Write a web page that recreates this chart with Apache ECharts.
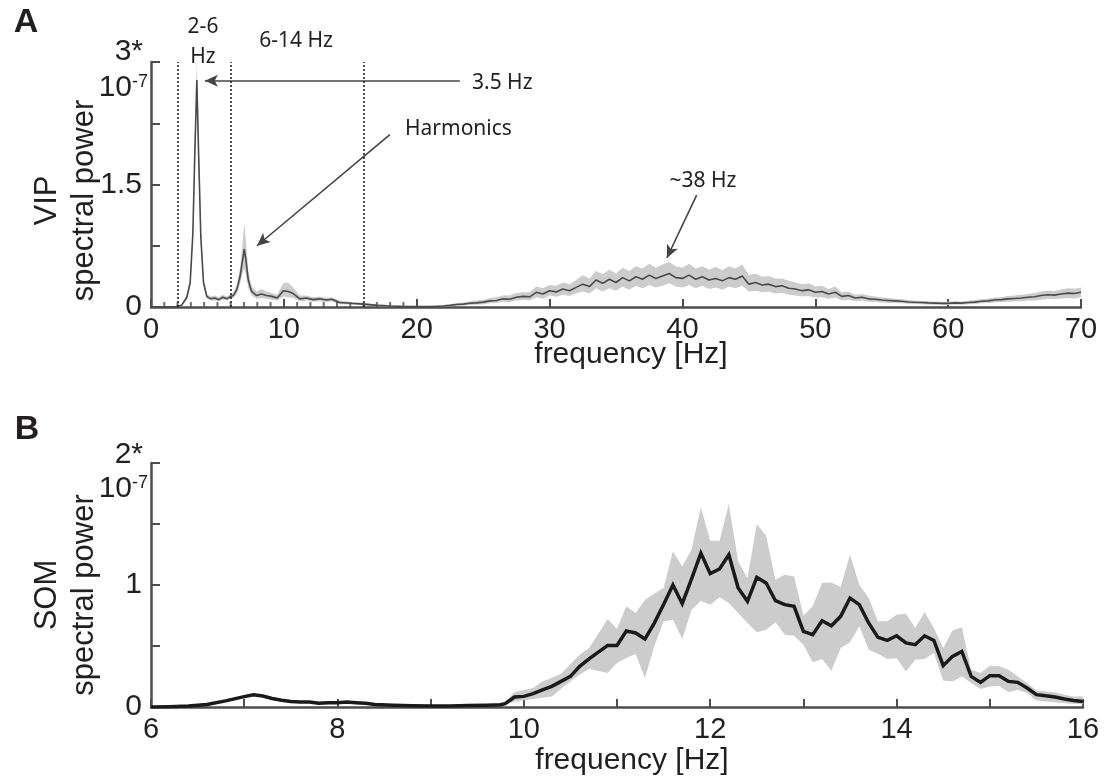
<!DOCTYPE html>
<html>
<head>
<meta charset="utf-8">
<script src="https://cdn.jsdelivr.net/npm/echarts@6/dist/echarts.min.js"></script>
<style>
  html, body { margin: 0; padding: 0; background: #fff; }
  #chart { width: 1112px; height: 783px; }
</style>
</head>
<body>
<div id="chart"></div>
<script>
// ---- panel A : VIP spectral power, 0-70 Hz ----
const freqA = [0, 1, 1.9, 2.3, 2.7, 2.95, 3.15, 3.3, 3.45, 3.58, 3.75, 3.95, 4.2, 4.5, 4.8, 5.1, 5.4, 5.7, 6, 6.2,
  6.45, 6.7, 6.9, 7.02, 7.14, 7.32, 7.57, 7.95, 8.3, 8.7, 9.1, 9.5, 9.96, 10.33, 10.7, 11.2, 11.7, 12.2, 12.7, 13.2,
  13.6, 14.2, 15, 16, 17, 18, 19, 20,
  20.5, 21, 21.5, 22, 22.5, 23, 23.5, 24, 24.5, 25, 25.5, 26, 26.5, 27, 27.5, 28, 28.5, 29, 29.5, 30,
  30.5, 31, 31.5, 32, 32.5, 33, 33.5, 34, 34.5, 35, 35.5, 36, 36.5, 37, 37.5, 38, 38.5, 39, 39.5, 40,
  40.5, 41, 41.5, 42, 42.5, 43, 43.5, 44, 44.5, 45, 45.5, 46, 46.5, 47, 47.5, 48, 48.5, 49, 49.5, 50,
  50.5, 51, 51.5, 52, 52.5, 53, 53.5, 54, 54.5, 55, 55.5, 56, 56.5, 57, 57.5, 58, 58.5, 59, 59.5, 60,
  60.5, 61, 61.5, 62, 62.5, 63, 63.5, 64, 64.5, 65, 65.5, 66, 66.5, 67, 67.5, 68, 68.5, 69, 69.5, 70]

const vipMean = [0.003, 0.003, 0.005, 0.02, 0.12, 0.3, 0.9, 1.9, 2.78, 1.9, 0.86, 0.3, 0.13, 0.1, 0.11, 0.09, 0.12, 0.1, 0.13, 0.14,
  0.21, 0.37, 0.58, 0.71, 0.58, 0.33, 0.19, 0.14, 0.16, 0.14, 0.13, 0.11, 0.2, 0.19, 0.165, 0.1, 0.11, 0.09, 0.1, 0.085,
  0.095, 0.055, 0.045, 0.035, 0.02, 0.012, 0.006, 0.004,
  0.005, 0.006, 0.008, 0.012, 0.02, 0.03, 0.035, 0.045, 0.05, 0.06, 0.075, 0.08, 0.1, 0.095, 0.12, 0.13, 0.125, 0.18, 0.16, 0.2,
  0.185, 0.22, 0.2, 0.24, 0.28, 0.25, 0.33, 0.29, 0.34, 0.3, 0.36, 0.32, 0.37, 0.34, 0.39, 0.35, 0.38, 0.41, 0.36, 0.35,
  0.39, 0.34, 0.37, 0.33, 0.35, 0.32, 0.36, 0.34, 0.38, 0.28, 0.3, 0.27, 0.28, 0.25, 0.26, 0.23, 0.22, 0.2, 0.21, 0.18,
  0.19, 0.16, 0.18, 0.13, 0.14, 0.11, 0.12, 0.1, 0.095, 0.085, 0.08, 0.075, 0.07, 0.062, 0.058, 0.055, 0.05, 0.048, 0.045, 0.045,
  0.05, 0.048, 0.055, 0.06, 0.07, 0.075, 0.085, 0.09, 0.1, 0.105, 0.11, 0.12, 0.125, 0.14, 0.15, 0.145, 0.16, 0.17, 0.165, 0.18]

const vipUpper = [0.006, 0.006, 0.01, 0.03, 0.15, 0.36, 1.0, 2.1, 3.0, 2.1, 0.98, 0.36, 0.16, 0.13, 0.14, 0.12, 0.15, 0.13, 0.16, 0.18,
  0.27, 0.48, 0.8, 1.02, 0.82, 0.45, 0.25, 0.19, 0.22, 0.19, 0.17, 0.15, 0.29, 0.3, 0.24, 0.14, 0.14, 0.12, 0.13, 0.11,
  0.12, 0.08, 0.065, 0.05, 0.035, 0.025, 0.015, 0.012,
  0.013, 0.015, 0.018, 0.024, 0.035, 0.05, 0.055, 0.07, 0.08, 0.09, 0.11, 0.12, 0.145, 0.14, 0.17, 0.18, 0.18, 0.25, 0.23, 0.27,
  0.26, 0.3, 0.28, 0.33, 0.39, 0.35, 0.44, 0.4, 0.46, 0.41, 0.48, 0.44, 0.5, 0.47, 0.53, 0.48, 0.52, 0.55, 0.5, 0.48,
  0.53, 0.47, 0.5, 0.46, 0.49, 0.45, 0.5, 0.47, 0.52, 0.39, 0.41, 0.37, 0.38, 0.35, 0.35, 0.32, 0.3, 0.28, 0.29, 0.25,
  0.26, 0.22, 0.25, 0.18, 0.19, 0.15, 0.16, 0.14, 0.13, 0.12, 0.11, 0.1, 0.095, 0.085, 0.08, 0.075, 0.07, 0.068, 0.065, 0.065,
  0.07, 0.068, 0.077, 0.085, 0.095, 0.1, 0.115, 0.12, 0.135, 0.14, 0.15, 0.16, 0.17, 0.19, 0.2, 0.195, 0.215, 0.23, 0.225, 0.24]

const vipLower = [0, 0, 0, 0.01, 0.09, 0.25, 0.8, 1.7, 2.6, 1.7, 0.76, 0.25, 0.1, 0.08, 0.08, 0.07, 0.09, 0.08, 0.1, 0.11,
  0.16, 0.28, 0.42, 0.47, 0.4, 0.24, 0.14, 0.1, 0.11, 0.1, 0.09, 0.08, 0.13, 0.12, 0.11, 0.07, 0.08, 0.065, 0.07, 0.06,
  0.07, 0.035, 0.03, 0.02, 0.01, 0.004, 0, 0,
  0, 0, 0.002, 0.004, 0.008, 0.015, 0.018, 0.025, 0.028, 0.035, 0.045, 0.05, 0.065, 0.06, 0.08, 0.085, 0.08, 0.12, 0.1, 0.14,
  0.125, 0.15, 0.135, 0.165, 0.19, 0.165, 0.23, 0.19, 0.23, 0.2, 0.25, 0.21, 0.26, 0.23, 0.27, 0.24, 0.26, 0.29, 0.25, 0.24,
  0.27, 0.23, 0.26, 0.22, 0.24, 0.21, 0.25, 0.23, 0.26, 0.19, 0.2, 0.18, 0.19, 0.165, 0.17, 0.15, 0.14, 0.13, 0.135, 0.115,
  0.12, 0.1, 0.115, 0.08, 0.09, 0.07, 0.08, 0.065, 0.06, 0.055, 0.05, 0.048, 0.045, 0.04, 0.036, 0.035, 0.03, 0.028, 0.026, 0.026,
  0.03, 0.028, 0.033, 0.037, 0.045, 0.05, 0.055, 0.06, 0.065, 0.07, 0.07, 0.08, 0.08, 0.09, 0.1, 0.095, 0.105, 0.11, 0.105, 0.12]

const bandEdgesA = [2, 6, 16]            // dotted band limits, Hz
const minorTicksA = [1, 2, 3, 4, 5, 6, 7, 8, 9, 11, 12, 13, 14, 15, 16, 17, 18, 19]
const xTicksA = [0, 10, 20, 30, 40, 50, 60, 70]
const yLabelsA = [0, 1.5]

// ---- panel B : SOM spectral power, 6-16 Hz ----
const freqB = [6.0, 6.2, 6.4, 6.6, 6.8, 7.0, 7.1, 7.2, 7.3, 7.4, 7.5, 7.6, 7.7, 7.8, 7.9, 8.0, 8.1, 8.2, 8.3, 8.4,
  8.6, 8.8, 9.0, 9.2, 9.4, 9.6, 9.75, 9.8, 9.9,
  10.0, 10.1, 10.2, 10.3, 10.4, 10.5, 10.6, 10.7, 10.8, 10.9, 11.0, 11.1, 11.2, 11.3, 11.4, 11.5, 11.6, 11.7, 11.8, 11.9,
  12.0, 12.1, 12.2, 12.3, 12.4, 12.5, 12.6, 12.7, 12.8, 12.9, 13.0, 13.1, 13.2, 13.3, 13.4, 13.5, 13.6, 13.7, 13.8, 13.9,
  14.0, 14.1, 14.2, 14.3, 14.4, 14.5, 14.6, 14.7, 14.8, 14.9, 15.0, 15.1, 15.2, 15.3, 15.4, 15.5, 15.6, 15.7, 15.8, 15.9, 16.0]

const somMean = [0.0, 0.003, 0.008, 0.02, 0.05, 0.085, 0.1, 0.09, 0.07, 0.055, 0.045, 0.04, 0.04, 0.03, 0.035, 0.035, 0.04, 0.035, 0.03, 0.02,
  0.015, 0.01, 0.008, 0.008, 0.012, 0.015, 0.019, 0.027, 0.082,
  0.087, 0.109, 0.14, 0.169, 0.21, 0.251, 0.333, 0.395, 0.45, 0.505, 0.505, 0.623, 0.607, 0.557, 0.688, 0.84, 1.0, 0.847, 1.05, 1.262,
  1.093, 1.131, 1.248, 0.975, 0.866, 1.062, 1.016, 0.871, 0.839, 0.825, 0.62, 0.593, 0.707, 0.666, 0.743, 0.893, 0.839, 0.689, 0.571, 0.546,
  0.584, 0.525, 0.511, 0.584, 0.546, 0.339, 0.415, 0.456, 0.251, 0.202, 0.257, 0.257, 0.21, 0.202, 0.156, 0.101, 0.093, 0.082, 0.066, 0.054, 0.046]

const somUpper = [0.004, 0.008, 0.014, 0.028, 0.06, 0.097, 0.112, 0.102, 0.081, 0.065, 0.054, 0.049, 0.049, 0.039, 0.044, 0.044, 0.049, 0.044, 0.038, 0.028,
  0.022, 0.016, 0.014, 0.014, 0.019, 0.023, 0.025, 0.04, 0.12,
  0.14, 0.156, 0.21, 0.24, 0.273, 0.35, 0.429, 0.484, 0.6, 0.721, 0.639, 0.825, 0.77, 0.88, 0.929, 0.975, 1.275, 1.152, 1.29, 1.639,
  1.363, 1.363, 1.664, 1.193, 1.057, 1.5, 1.404, 1.043, 1.084, 1.07, 0.751, 0.825, 1.016, 1.02, 0.984, 1.248, 1.0, 0.893, 0.702, 0.702,
  0.757, 0.765, 0.648, 0.779, 0.648, 0.484, 0.628, 0.653, 0.306, 0.279, 0.339, 0.333, 0.306, 0.251, 0.197, 0.136, 0.128, 0.12, 0.101, 0.087, 0.087]

const somLower = [0.0, 0.0, 0.003, 0.013, 0.04, 0.074, 0.088, 0.079, 0.06, 0.046, 0.037, 0.032, 0.032, 0.022, 0.027, 0.027, 0.032, 0.027, 0.022, 0.013,
  0.009, 0.005, 0.003, 0.003, 0.006, 0.009, 0.012, 0.02, 0.046,
  0.055, 0.066, 0.075, 0.087, 0.15, 0.21, 0.265, 0.311, 0.295, 0.279, 0.361, 0.402, 0.434, 0.238, 0.497, 0.7, 0.716, 0.557, 0.798, 0.871,
  0.839, 0.899, 0.852, 0.77, 0.689, 0.612, 0.634, 0.694, 0.593, 0.585, 0.511, 0.366, 0.393, 0.298, 0.484, 0.53, 0.661, 0.47, 0.437, 0.393,
  0.4, 0.292, 0.388, 0.393, 0.443, 0.218, 0.21, 0.251, 0.197, 0.148, 0.169, 0.175, 0.12, 0.142, 0.115, 0.054, 0.046, 0.038, 0.03, 0.027, 0.022]

const xLabelsB = [6, 8, 10, 12, 14, 16]
const yLabelsB = [0, 1]

const chart = echarts.init(document.getElementById('chart'))

const AXIS = '#4d4d4d'
const TXT = '#231f20'
const BAND = '#cccccc'
const SANS = 'Liberation Sans, Arial, sans-serif'
const NOTE = 'Noto Sans, Open Sans, sans-serif'

const pairs = (xs, ys) => xs.map((x, i) => [x, ys[i]])

/* 灰色置信带: 上沿 + 反向下沿 组成一个多边形 */
const bandSeries = (idx, xs, up, lo) => ({
  type: 'custom',
  xAxisIndex: idx,
  yAxisIndex: idx,
  clip: true,
  silent: true,
  z: 1,
  data: [[xs[0], 0]],
  renderItem: (params, api) => {
    const pts = []
    xs.forEach((x, i) => pts.push(api.coord([x, up[i]])))
    for (let i = xs.length - 1; i >= 0; i--) pts.push(api.coord([xs[i], lo[i]]))
    return { type: 'polygon', shape: { points: pts }, style: { fill: BAND } }
  }
})

const baseX = {
  type: 'value',
  axisLine: { lineStyle: { color: AXIS, width: 2.5 } },
  axisTick: { inside: true, length: 8, lineStyle: { color: AXIS, width: 2 } },
  splitLine: { show: false },
  axisLabel: { color: TXT, fontFamily: SANS, fontSize: 29, margin: 8, showMinLabel: true, showMaxLabel: true },
  name: 'frequency [Hz]',
  nameLocation: 'middle',
  nameMoveOverlap: false,
  nameTextStyle: { color: TXT, fontFamily: SANS, fontSize: 30, padding: [0, 0, 0, 30] }
}

const baseY = {
  type: 'value',
  axisLine: { show: true, lineStyle: { color: AXIS, width: 2.5 } },
  axisTick: { show: true, inside: true, length: 9, lineStyle: { color: AXIS, width: 2 } },
  splitLine: { show: false },
  axisLabel: { color: TXT, fontFamily: SANS, fontSize: 30, margin: 9, showMinLabel: true, showMaxLabel: true },
  nameLocation: 'middle',
  nameRotate: 90,
  nameMoveOverlap: false
}

const option = {
  animation: false,
  backgroundColor: '#fff',
  grid: [
    { left: 151, top: 62, width: 930, height: 245 },
    { left: 151, top: 463, width: 932, height: 244 }
  ],
  xAxis: [
    Object.assign({}, baseX, {
      gridIndex: 0, min: 0, max: 70, interval: 10, nameGap: 33,
      axisLabel: Object.assign({}, baseX.axisLabel, {
        formatter: v => (xTicksA.includes(v) ? String(v) : '')
      })
    }),
    Object.assign({}, baseX, {
      gridIndex: 1, min: 6, max: 16, interval: 1, nameGap: 39,
      axisLabel: Object.assign({}, baseX.axisLabel, {
        formatter: v => (xLabelsB.includes(v) ? String(v) : '')
      })
    })
  ],
  yAxis: [
    Object.assign({}, baseY, {
      gridIndex: 0, min: 0, max: 3, interval: 0.75,
      name: 'VIP\nspectral power', nameGap: 48,
      nameTextStyle: { color: TXT, fontFamily: SANS, fontSize: 31, lineHeight: 37, padding: [0, 32, 0, 0] },
      axisLabel: Object.assign({}, baseY.axisLabel, {
        formatter: v => (yLabelsA.includes(v) ? String(v) : '')
      })
    }),
    Object.assign({}, baseY, {
      gridIndex: 1, min: 0, max: 2, interval: 0.5,
      name: 'SOM\nspectral power', nameGap: 48,
      nameTextStyle: { color: TXT, fontFamily: SANS, fontSize: 31, lineHeight: 37, padding: [0, 20, 0, 0] },
      axisLabel: Object.assign({}, baseY.axisLabel, {
        formatter: v => (yLabelsB.includes(v) ? String(v) : '')
      })
    })
  ],
  series: [
    bandSeries(0, freqA, vipUpper, vipLower),
    {
      type: 'line',
      xAxisIndex: 0,
      yAxisIndex: 0,
      z: 3,
      showSymbol: false,
      data: pairs(freqA, vipMean),
      lineStyle: { color: '#4a4a4a', width: 1.6 },
      markLine: {
        silent: true,
        symbol: ['none', 'arrow'],
        symbolSize: [9, 13],
        label: { show: false },
        lineStyle: { color: '#444', width: 1.6, type: 'solid' },
        data: [
          [{ coord: [23.25, 2.77] }, { coord: [4.06, 2.77] }],   // 3.5 Hz
          [{ coord: [17.98, 2.11] }, { coord: [7.98, 0.75] }],   // Harmonics
          [{ coord: [41.07, 1.37] }, { coord: [38.83, 0.6] }]    // ~38 Hz
        ]
      }
    },
    {
      // 虚线: 频段边界
      type: 'line',
      xAxisIndex: 0,
      yAxisIndex: 0,
      data: [],
      markLine: {
        silent: true,
        symbol: 'none',
        label: { show: false },
        lineStyle: { color: '#222', width: 1.6, type: [2, 2] },
        data: bandEdgesA.map(x => ({ xAxis: x }))
      }
    },
    {
      // 0-20 Hz 的小刻度
      type: 'scatter',
      xAxisIndex: 0,
      yAxisIndex: 0,
      z: 4,
      silent: true,
      symbol: 'rect',
      symbolSize: [2, 5],
      symbolOffset: [0, -2.5],
      itemStyle: { color: AXIS },
      data: minorTicksA.map(x => [x, 0])
    },
    bandSeries(1, freqB, somUpper, somLower),
    {
      type: 'line',
      xAxisIndex: 1,
      yAxisIndex: 1,
      z: 3,
      showSymbol: false,
      data: pairs(freqB, somMean),
      lineStyle: { color: '#1a1a1a', width: 3.5, join: 'miter' }
    }
  ],
  graphic: [
    { type: 'text', x: 26, y: 23, style: { text: 'A', font: 'bold 34px ' + SANS, fill: TXT, align: 'center', verticalAlign: 'middle' } },
    { type: 'text', x: 27, y: 430, style: { text: 'B', font: 'bold 34px ' + SANS, fill: TXT, align: 'center', verticalAlign: 'middle' } },
    // 纵轴顶端的单位
    { type: 'text', x: 143, y: 52, style: { text: '3*', font: '30px ' + SANS, fill: TXT, align: 'right', verticalAlign: 'middle' } },
    {
      type: 'text', x: 148, y: 88,
      style: {
        text: '{n|10}{e|-7}', fill: TXT, align: 'right', verticalAlign: 'middle',
        rich: { n: { fontFamily: SANS, fontSize: 30, fill: TXT }, e: { fontFamily: SANS, fontSize: 18, fill: TXT, verticalAlign: 'top', padding: [0, 0, 10, 0] } }
      }
    },
    { type: 'text', x: 143, y: 455, style: { text: '2*', font: '30px ' + SANS, fill: TXT, align: 'right', verticalAlign: 'middle' } },
    {
      type: 'text', x: 148, y: 489,
      style: {
        text: '{n|10}{e|-7}', fill: TXT, align: 'right', verticalAlign: 'middle',
        rich: { n: { fontFamily: SANS, fontSize: 30, fill: TXT }, e: { fontFamily: SANS, fontSize: 18, fill: TXT, verticalAlign: 'top', padding: [0, 0, 10, 0] } }
      }
    },
    // 注释文字
    { type: 'text', x: 203, y: 27, style: { text: '2-6', font: '21px ' + NOTE, fill: TXT, align: 'center', verticalAlign: 'middle' } },
    { type: 'text', x: 203, y: 57, style: { text: 'Hz', font: '21px ' + NOTE, fill: TXT, align: 'center', verticalAlign: 'middle' } },
    { type: 'text', x: 296, y: 41, style: { text: '6-14 Hz', font: '21px ' + NOTE, fill: TXT, align: 'center', verticalAlign: 'middle' } },
    { type: 'text', x: 472, y: 83, style: { text: '3.5 Hz', font: '21px ' + NOTE, fill: TXT, align: 'left', verticalAlign: 'middle' } },
    { type: 'text', x: 405, y: 129, style: { text: 'Harmonics', font: '21px ' + NOTE, fill: TXT, align: 'left', verticalAlign: 'middle' } },
    { type: 'text', x: 703, y: 181, style: { text: '~38 Hz', font: '21px ' + NOTE, fill: TXT, align: 'center', verticalAlign: 'middle' } }
  ]
}

chart.setOption(option)
</script>
</body>
</html>
